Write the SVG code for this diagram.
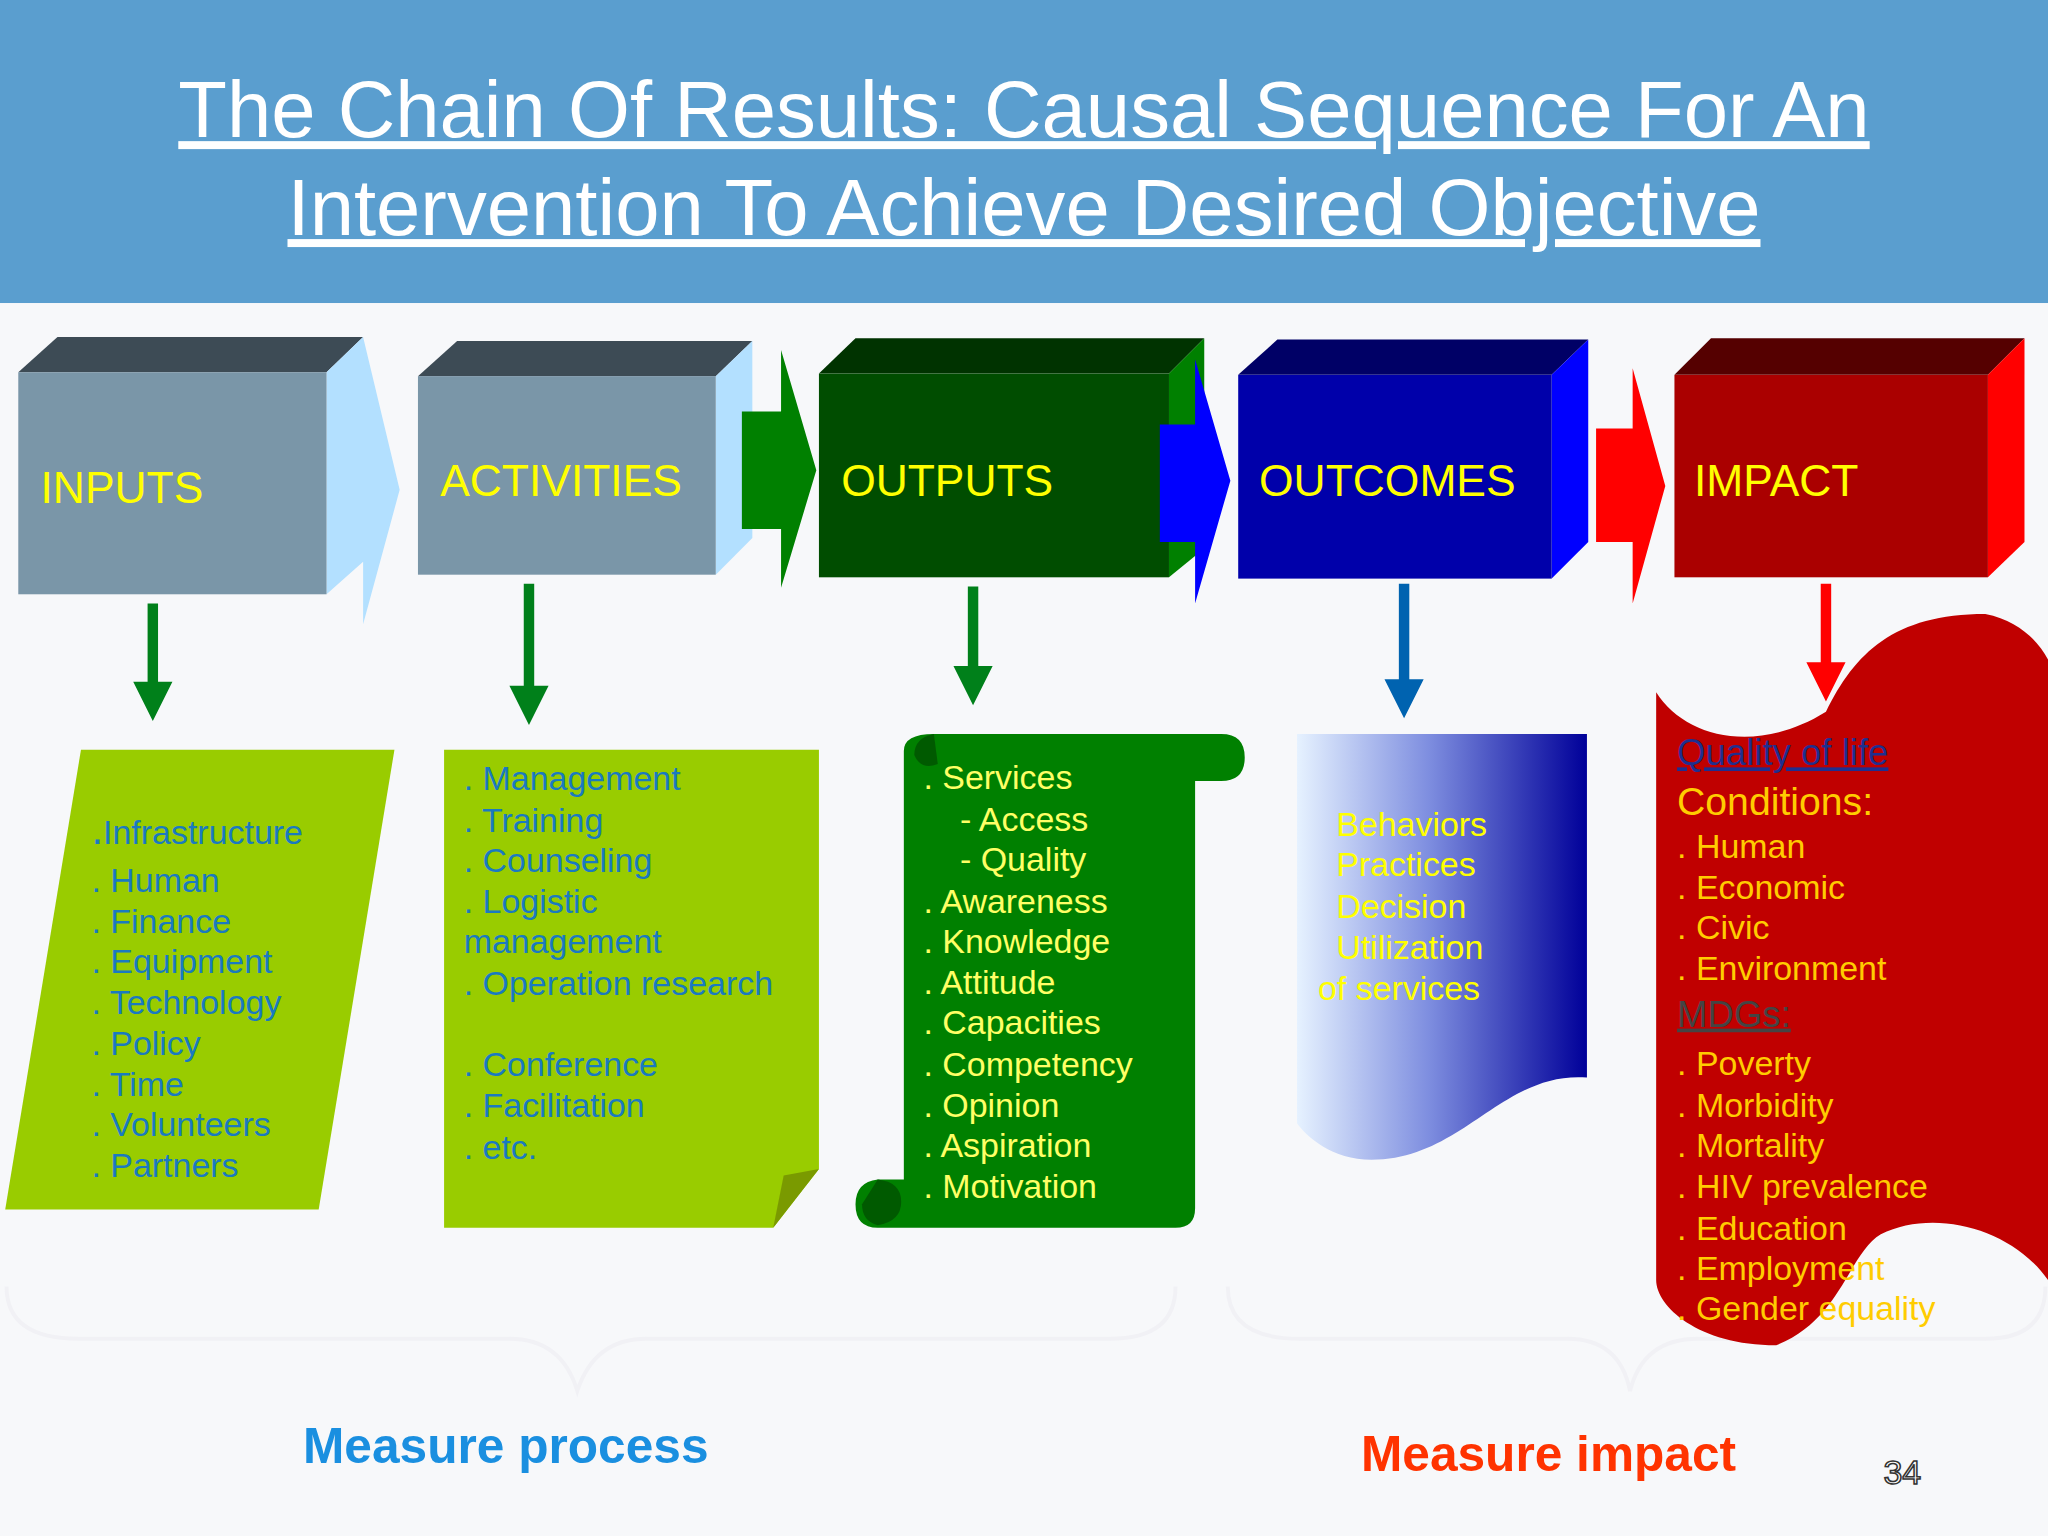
<svg xmlns="http://www.w3.org/2000/svg" width="2048" height="1536" viewBox="0 0 2048 1536">
<defs>
<style>
.t{font-family:"Liberation Sans",Arial,sans-serif}
.lbl{font-size:34px;fill:#ffff00}
.bl{font-size:26px;fill:#1a7ac0}
.yl{font-size:26px;fill:#ffff66}
.ol{font-size:26px;fill:#ffff00}
.rl{font-size:26px;fill:#ffcc00}
</style>
<linearGradient id="og" x1="0" y1="0" x2="1" y2="0">
<stop offset="0" stop-color="#e6f2ff"/><stop offset="0.45" stop-color="#7f8fe0"/><stop offset="1" stop-color="#000099"/>
</linearGradient>
</defs>
<rect width="2048" height="1536" fill="#f7f8fa"/>
<g transform="scale(1.30612)">
<g id="header">
<rect x="0" y="0" width="1568" height="232" fill="#5a9ecf"/>
<text class="t" x="784" y="105" font-size="61" fill="#fff" text-anchor="middle" text-decoration="underline">The Chain Of Results: Causal Sequence For An</text>
<text class="t" x="784" y="180" font-size="61" fill="#fff" text-anchor="middle" text-decoration="underline">Intervention To Achieve Desired Objective</text>
</g>
<g id="inputs">
<polygon points="14,285 44,258 278,258 250,285" fill="#3d4b55"/>
<polygon points="250,285 278,258 306,375 278,478 278,430 250,455" fill="#b3e0ff"/>
<rect x="14" y="285" width="236" height="170" fill="#7a96a8"/>
<text class="t lbl" x="31" y="385">INPUTS</text>
</g>
<g id="activities">
<polygon points="320,288 350,261 576,261 548,288" fill="#3d4b55"/>
<polygon points="548,288 576,261 576,412 548,440" fill="#b3e0ff"/>
<rect x="320" y="288" width="228" height="152" fill="#7a96a8"/>
<text class="t lbl" x="337" y="380">ACTIVITIES</text>
</g>
<g id="outputs">
<polygon points="627,286 655,259 922,259 895,286" fill="#003300"/>
<polygon points="895,286 922,259 922,420 895,442" fill="#008000"/>
<rect x="627" y="286" width="268" height="156" fill="#004d00"/>
<text class="t lbl" x="644" y="380">OUTPUTS</text>
</g>
<g id="outcomes">
<polygon points="948,287 978,260 1216,260 1188,287" fill="#000066"/>
<polygon points="1188,287 1216,260 1216,415 1188,443" fill="#0000ff"/>
<rect x="948" y="287" width="240" height="156" fill="#0000aa"/>
<text class="t lbl" x="964" y="380">OUTCOMES</text>
</g>
<g id="impact">
<polygon points="1282,287 1310,259 1550,259 1522,287" fill="#550000"/>
<polygon points="1522,287 1550,259 1550,415 1522,442" fill="#ff0000"/>
<rect x="1282" y="287" width="240" height="155" fill="#aa0000"/>
<text class="t lbl" x="1297" y="380">IMPACT</text>
</g>
<g id="connectors">
<polygon points="568,315 598,315 598,268 625,360 598,450 598,405 568,405" fill="#008000"/>
<polygon points="888,325 915,325 915,275 942,368 915,462 915,415 888,415" fill="#0000ff"/>
<polygon points="1222,328 1250,328 1250,282 1275,372 1250,462 1250,415 1222,415" fill="#ff0000"/>
<polygon points="113,462 121,462 121,522 132,522 117,552 102,522 113,522" fill="#00801a"/>
<polygon points="401,447 409,447 409,525 420,525 405,555 390,525 401,525" fill="#00801a"/>
<polygon points="741,449 749,449 749,510 760,510 745,540 730,510 741,510" fill="#00801a"/>
<polygon points="1071,447 1079,447 1079,520 1090,520 1075,550 1060,520 1071,520" fill="#0063b0"/>
<polygon points="1394,447 1402,447 1402,507 1413,507 1398,537 1383,507 1394,507" fill="#ff0000"/>
<path d="M5,985 Q5,1025 60,1025 L390,1025 Q430,1025 442,1065 Q455,1025 495,1025 L850,1025 Q900,1025 900,985" fill="none" stroke="#f1f1f5" stroke-width="3"/>
<path d="M940,985 Q940,1025 995,1025 L1200,1025 Q1240,1025 1248,1065 Q1258,1025 1300,1025 L1520,1025 Q1566,1025 1566,985" fill="none" stroke="#f1f1f5" stroke-width="3"/>
</g>
<g id="inputs-list">
<polygon points="62,574 302,574 244,926 4,926" fill="#99cc00"/>
<g class="t bl">
<text x="70" y="646"><tspan font-size="32">.</tspan>Infrastructure</text>
<text x="70" y="683">. Human</text><text x="70" y="714">. Finance</text><text x="70" y="745">. Equipment</text>
<text x="70" y="776">. Technology</text><text x="70" y="808">. Policy</text><text x="70" y="839">. Time</text>
<text x="70" y="870">. Volunteers</text><text x="70" y="901">. Partners</text>
</g>
</g>
<g id="activities-list">
<polygon points="340,574 627,574 627,895 592,940 340,940" fill="#99cc00"/>
<polygon points="592,940 600,900 627,895" fill="#7a9a00"/>
<g class="t bl">
<text x="355" y="605">. Management</text><text x="355" y="637">. Training</text><text x="355" y="668">. Counseling</text>
<text x="355" y="699">. Logistic</text><text x="355" y="730">management</text><text x="355" y="762">. Operation research</text>
<text x="355" y="824">. Conference</text><text x="355" y="855">. Facilitation</text><text x="355" y="887">. etc.</text>
</g>
</g>
<g id="outputs-list">
<path d="M692,575 Q692,562 715,562 L935,562 Q953,562 953,580 Q953,598 935,598 L915,598 L915,925 Q915,940 900,940 L672,940 Q655,940 655,922 Q655,905 672,903 L692,903 Z" fill="#008000"/>
<path d="M672,903 Q690,905 690,920 Q690,935 672,938 Q660,935 660,922" fill="#005a00"/>
<path d="M715,562 Q700,565 700,578 Q705,590 718,585" fill="#005a00"/>
<g class="t yl">
<text x="707" y="604">. Services</text><text x="735" y="636">- Access</text><text x="735" y="667">- Quality</text>
<text x="707" y="699">. Awareness</text><text x="707" y="730">. Knowledge</text><text x="707" y="761">. Attitude</text>
<text x="707" y="792">. Capacities</text><text x="707" y="824">. Competency</text><text x="707" y="855">. Opinion</text>
<text x="707" y="886">. Aspiration</text><text x="707" y="917">. Motivation</text>
</g>
</g>
<g id="outcomes-list">
<path d="M993,562 L1215,562 L1215,825 C1150,820 1120,888 1050,888 C1020,888 1000,870 993,860 Z" fill="url(#og)"/>
<g class="t ol">
<text x="1023" y="640">Behaviors</text><text x="1023" y="671">Practices</text><text x="1023" y="703">Decision</text>
<text x="1023" y="734">Utilization</text><text x="1009" y="766">of services</text>
</g>
</g>
<g id="impact-list">
<path d="M1268,530 C1290,565 1345,578 1398,545 C1420,500 1450,470 1520,470 C1545,475 1560,490 1568,505 L1568,980 C1540,940 1480,925 1440,945 C1415,960 1410,1010 1360,1030 C1300,1030 1268,1000 1268,980 Z" fill="#c00000"/>
<g class="t rl">
<text x="1284" y="586" fill="#1f2f8f" font-size="28" text-decoration="underline">Quality of life</text>
<text x="1284" y="624" font-size="30">Conditions:</text>
<text x="1284" y="657">. Human</text><text x="1284" y="688">. Economic</text><text x="1284" y="719">. Civic</text>
<text x="1284" y="750">. Environment</text>
<text x="1284" y="786" fill="#444" font-size="28" text-decoration="underline">MDGs:</text>
<text x="1284" y="823">.  Poverty</text><text x="1284" y="855">. Morbidity</text><text x="1284" y="886">. Mortality</text>
<text x="1284" y="917">. HIV prevalence</text><text x="1284" y="949">. Education</text><text x="1284" y="980">. Employment</text>
<text x="1284" y="1011">. Gender equality</text>
</g>
</g>
<g id="footer">
<text class="t" x="232" y="1120" font-size="38" font-weight="bold" fill="#1a8fe0">Measure process</text>
<text class="t" x="1042" y="1126" font-size="38" font-weight="bold" fill="#ff3300">Measure impact</text>
<text class="t" x="1442" y="1136" font-size="26" fill="#fff" stroke="#333" stroke-width="1.2">34</text>
</g>
</g>
</svg>
